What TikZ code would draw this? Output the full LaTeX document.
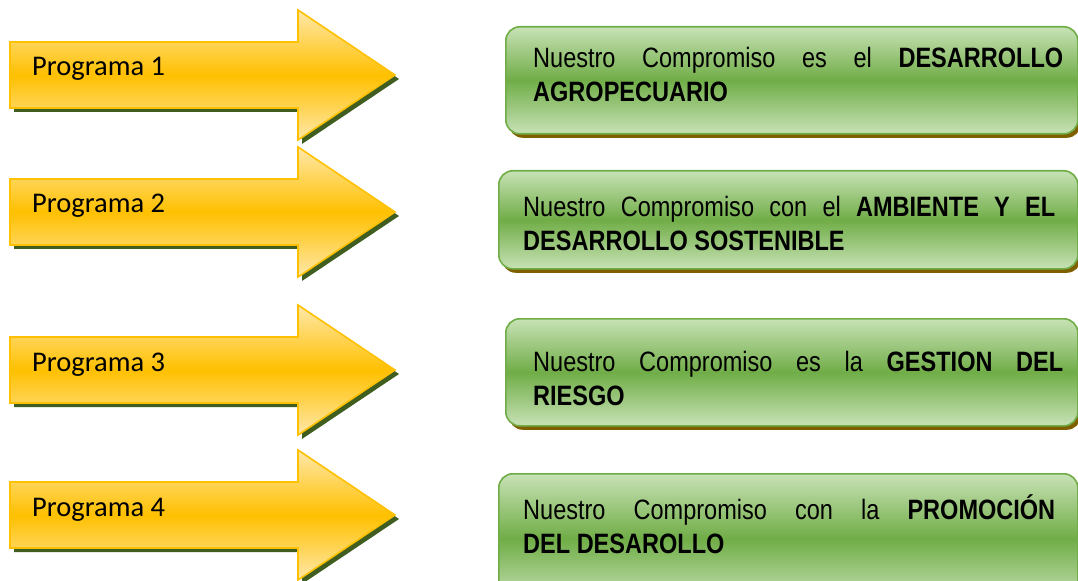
\documentclass[tikz,border=0pt]{standalone}
\usepackage{fontspec}
\setmainfont{Liberation Sans}
\newfontfamily\estrecha[FakeStretch=0.84]{Liberation Sans}
\newfontfamily\progfont{Carlito}
\usetikzlibrary{positioning,shadows}

\definecolor{oro}{RGB}{255,192,0}
\definecolor{oroclaro}{RGB}{255,232,170}
\definecolor{sombraverde}{RGB}{64,94,32}
\definecolor{verde}{RGB}{112,173,71}
\definecolor{verdeclaro}{RGB}{200,226,182}
\definecolor{marron}{RGB}{127,96,0}

\begin{document}
\begin{tikzpicture}[
    x=1bp, y=-1bp,
    flecha/.style={draw=oro, line width=1.6bp, top color=oroclaro,
        bottom color=oroclaro, middle color=oro, line join=miter,
        drop shadow={shadow xshift=4bp, shadow yshift=-4bp,
            fill=sombraverde, opacity=1}},
    prog/.style={font=\progfont\fontsize{28.5bp}{34bp}\selectfont,
        inner sep=0pt, anchor=base west},
    cbox/.style={draw=verde, line width=1.6bp, rounded corners=14bp,
        top color=verdeclaro, bottom color=verdeclaro, middle color=verde,
        anchor=north west, inner sep=0pt,
        drop shadow={shadow xshift=3bp, shadow yshift=-4bp,
            fill=marron, opacity=1}},
    ctext/.style={font=\estrecha\fontsize{28bp}{34bp}\selectfont,
        align=justify, inner sep=0pt, anchor=north west},
    ]

    \clip (0,0) rectangle (1078,581);

    %flechas
    \path[flecha] (10,42) -- (298,42) -- (298,10) -- (395,75)
        -- (298,140) -- (298,108) -- (10,108) -- cycle;
    \path[flecha] (10,179) -- (298,179) -- (298,147) -- (395,212)
        -- (298,277) -- (298,245) -- (10,245) -- cycle;
    \path[flecha] (10,337) -- (298,337) -- (298,305) -- (395,370)
        -- (298,435) -- (298,403) -- (10,403) -- cycle;
    \path[flecha] (10,482) -- (298,482) -- (298,450) -- (395,515)
        -- (298,580) -- (298,548) -- (10,548) -- cycle;

    %programas
    \node[prog] (p1) at (32,76) {Programa 1};
    \node[prog] (p2) at (32,213) {Programa 2};
    \node[prog] (p3) at (32,371) {Programa 3};
    \node[prog] (p4) at (32,516) {Programa 4};

    %compromisos
    \node[cbox, minimum width=572bp, minimum height=107bp] (b1) at (505,26) {};
    \node[cbox, minimum width=579bp, minimum height=98bp] (b2) at (498,170) {};
    \node[cbox, minimum width=572bp, minimum height=107bp] (b3) at (505,318) {};
    \node[cbox, minimum width=579bp, minimum height=130bp] (b4) at (498,473) {};

    \node[ctext, text width=530bp] (t1) at (533,47)
        {Nuestro Compromiso es el \textbf{DESARROLLO}\linebreak
        \textbf{AGROPECUARIO}};
    \node[ctext, text width=532bp] (t2) at (523,196)
        {Nuestro Compromiso con el \textbf{AMBIENTE Y EL}\linebreak
        \textbf{DESARROLLO SOSTENIBLE}};
    \node[ctext, text width=530bp] (t3) at (533,351)
        {Nuestro Compromiso es la \textbf{GESTION DEL}\linebreak
        \textbf{RIESGO}};
    \node[ctext, text width=532bp] (t4) at (523,494)
        {Nuestro Compromiso con la \textbf{PROMOCIÓN}\linebreak
        \textbf{DEL DESAROLLO}};

\end{tikzpicture}
\end{document}
